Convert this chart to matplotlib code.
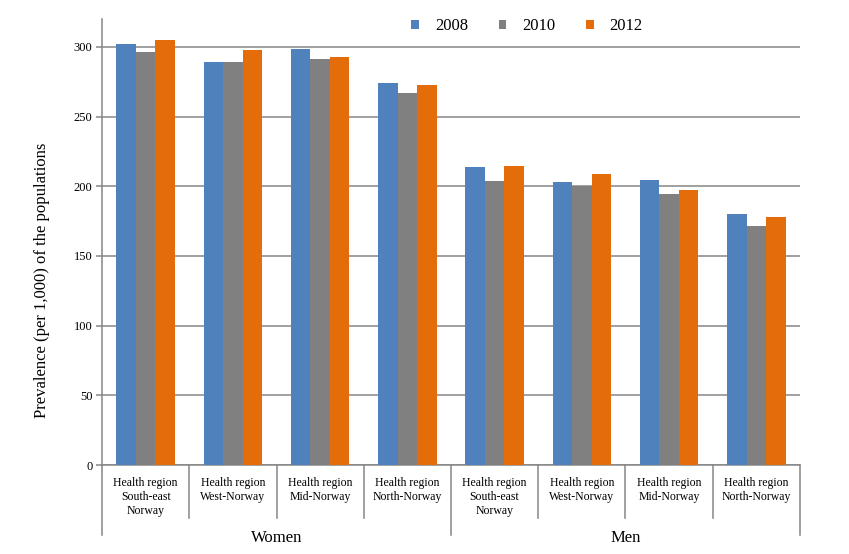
import matplotlib
matplotlib.use("Agg")
import matplotlib.pyplot as plt
import matplotlib.transforms as mtransforms
from matplotlib.patches import Patch
import numpy as np

plt.rcParams['font.family'] = ['Liberation Serif', 'DejaVu Serif']

groups = ["Women", "Men"]
regions = ["Health region\nSouth-east\nNorway", "Health region\nWest-Norway",
           "Health region\nMid-Norway", "Health region\nNorth-Norway"]
categories = regions + regions
years = ["2008", "2010", "2012"]
v2008 = [302.4, 288.8, 298.8, 273.8, 213.6, 202.9, 204.3, 180.0]
v2010 = [296.0, 288.8, 291.6, 266.6, 203.6, 200.0, 194.3, 171.4]
v2012 = [305.2, 298.0, 293.0, 272.4, 214.3, 208.6, 197.1, 177.9]
colors = ["#4F81BD", "#808080", "#E46C0A"]
yticks = [0, 50, 100, 150, 200, 250, 300]

W, H = 849, 554
fig = plt.figure(figsize=(W / 100, H / 100), dpi=100)
ax = fig.add_axes([102 / W, 1 - 465 / H, (800 - 102) / W, (465 - 19) / H])

n = len(categories)
x = np.arange(n) + 0.5
bw = 0.223
for k, (vals, c) in enumerate(zip([v2008, v2010, v2012], colors)):
    ax.bar(x + (k - 1) * bw, vals, width=bw, color=c, zorder=3)

ax.set_xlim(0, n)
ax.set_ylim(0, 320)
ax.set_yticks(yticks)
ax.set_yticklabels([str(t) for t in yticks], fontsize=9)
ax.set_xticks([])
ax.yaxis.grid(True, color="#868686", linewidth=1.1, zorder=0)
ax.set_axisbelow(True)
for s in ["top", "right"]:
    ax.spines[s].set_visible(False)
ax.spines["left"].set_color("#868686")
ax.spines["bottom"].set_color("#868686")
ax.spines["left"].set_linewidth(1.1)
ax.spines["bottom"].set_linewidth(1.1)
ax.tick_params(axis="y", length=4, color="#868686", width=1.1, pad=3)

trans = mtransforms.blended_transform_factory(ax.transData, ax.transAxes)
ph = 465 - 19
for i in range(n + 1):
    ybot = -70 / ph if i in (0, 4, 8) else -53 / ph
    ax.plot([i, i], [0, ybot], color="#868686", lw=1.1, transform=trans, clip_on=False)

for i, lab in enumerate(categories):
    ax.text(i + 0.5, -12 / ph, lab, transform=trans, ha="center", va="top",
            fontsize=8.5, linespacing=1.2)

for g, lab in enumerate(groups):
    ax.text(2 + 4 * g, -73 / ph, lab, transform=trans, ha="center", va="center",
            fontsize=12)

fig.text(42 / W, 1 - 280 / H, "Prevalence (per 1,000) of the populations",
         rotation=90, ha="center", va="center", fontsize=12)

handles = [Patch(facecolor=c, edgecolor="none") for c in colors]
fig.legend(handles, years, loc="center", bbox_to_anchor=(527 / W, 1 - 26 / H),
           ncol=3, frameon=False, fontsize=12, handlelength=0.45, handleheight=0.45,
           columnspacing=1.85, handletextpad=0.95)

fig.savefig("out.png", dpi=100)
